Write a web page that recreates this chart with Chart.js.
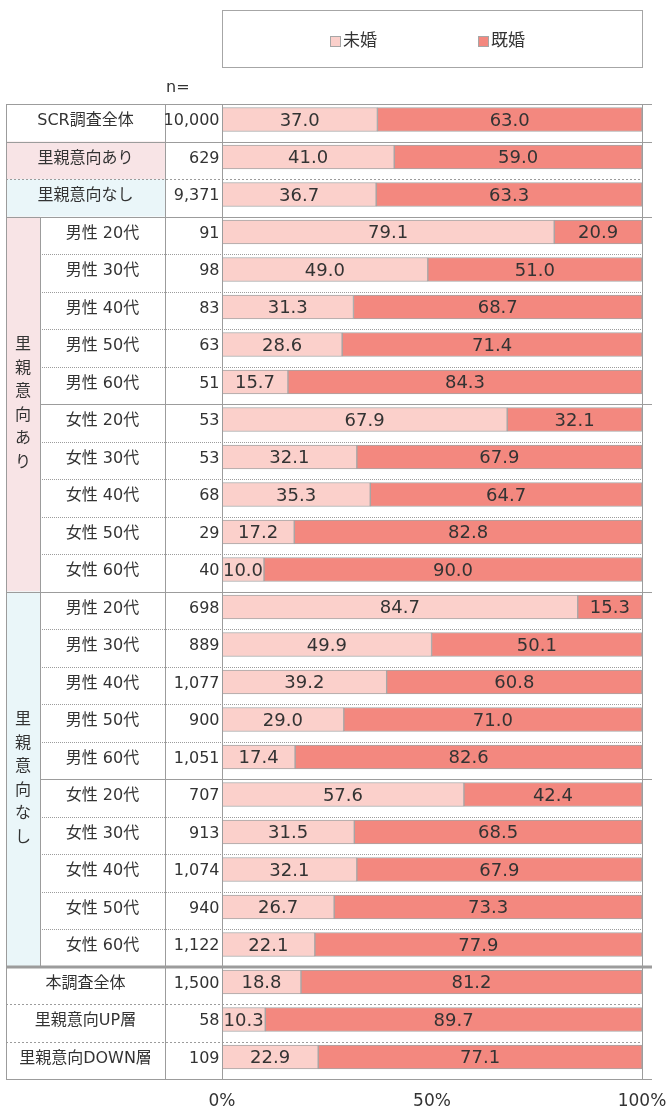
<!DOCTYPE html>
<html lang="ja">
<head>
<meta charset="utf-8">
<title>未婚・既婚</title>
<script src="https://cdn.jsdelivr.net/npm/chart.js@4.4.1/dist/chart.umd.min.js"></script>
<style>
  html, body { margin: 0; padding: 0; background: #fff; }
  #wrap { width: 670px; height: 1117px; }
</style>
</head>
<body>
<div id="wrap"><canvas id="chart" width="670" height="1117"></canvas></div>
<script>
// rows, top to bottom
const rowLabels = [
  'SCR調査全体', '里親意向あり', '里親意向なし',
  '男性 20代', '男性 30代', '男性 40代', '男性 50代', '男性 60代',
  '女性 20代', '女性 30代', '女性 40代', '女性 50代', '女性 60代',
  '男性 20代', '男性 30代', '男性 40代', '男性 50代', '男性 60代',
  '女性 20代', '女性 30代', '女性 40代', '女性 50代', '女性 60代',
  '本調査全体', '里親意向UP層', '里親意向DOWN層'
];
const nValues = [
  '10,000', '629', '9,371',
  '91', '98', '83', '63', '51', '53', '53', '68', '29', '40',
  '698', '889', '1,077', '900', '1,051', '707', '913', '1,074', '940', '1,122',
  '1,500', '58', '109'
];
const unmarried = [
  37.0, 41.0, 36.7,
  79.1, 49.0, 31.3, 28.6, 15.7, 67.9, 32.1, 35.3, 17.2, 10.0,
  84.7, 49.9, 39.2, 29.0, 17.4, 57.6, 31.5, 32.1, 26.7, 22.1,
  18.8, 10.3, 22.9
];
const married = [
  63.0, 59.0, 63.3,
  20.9, 51.0, 68.7, 71.4, 84.3, 32.1, 67.9, 64.7, 82.8, 90.0,
  15.3, 50.1, 60.8, 71.0, 82.6, 42.4, 68.5, 67.9, 73.3, 77.9,
  81.2, 89.7, 77.1
];
const seriesNames = ['未婚', '既婚'];
const tickValues = [0, 50, 100];
const groupNames = ['里親意向あり', '里親意向なし'];
const groupFirst = [3, 13];
const groupLast = [12, 22];

// styles
const FONT = '"DejaVu Sans", "Noto Sans CJK JP", sans-serif';
const TEXT = '#333333';
const LINE = '#9c9c9c';
const COL_UNMARRIED = '#fbd0cb';
const COL_MARRIED = '#f3887f';
const BG_GROUP = ['#f8e4e6', '#eaf6f9'];
const X_LEFT = 6, X_GROUP = 40, X_LABEL = 165;
const ROW_SHIFT = 3.25;

function rowEdge(chart, k) {
  const y = chart.scales.y;
  const h = y.getPixelForValue(1) - y.getPixelForValue(0);
  return y.getPixelForValue(0) - h / 2 + k * h + ROW_SHIFT;
}
function rowGroup(i) {
  for (let g = 0; g < groupFirst.length; g++) {
    if (i >= groupFirst[g] && i <= groupLast[g]) return g;
  }
  return -1;
}
function hline(ctx, x1, x2, y, dash, width) {
  ctx.save();
  ctx.strokeStyle = LINE;
  ctx.lineWidth = width || 1;
  ctx.setLineDash(dash || []);
  const yy = Math.round(y) + (width === 3 ? 0 : 0.5);
  ctx.beginPath();
  ctx.moveTo(x1, yy);
  ctx.lineTo(x2, yy);
  ctx.stroke();
  ctx.restore();
}
function vline(ctx, x, y1, y2) {
  ctx.save();
  ctx.strokeStyle = LINE;
  ctx.lineWidth = 1;
  ctx.beginPath();
  ctx.moveTo(x + 0.5, Math.round(y1));
  ctx.lineTo(x + 0.5, Math.round(y2) + 1);
  ctx.stroke();
  ctx.restore();
}

const tablePlugin = {
  id: 'table',
  beforeDraw(chart) {
    const ctx = chart.ctx;
    // backgrounds
    ctx.save();
    for (let g = 0; g < groupNames.length; g++) {
      ctx.fillStyle = BG_GROUP[g];
      // summary row for the group
      const t = rowEdge(chart, g + 1), b = rowEdge(chart, g + 2);
      ctx.fillRect(X_LEFT, t, X_LABEL - X_LEFT, b - t);
      // group column
      const gt = rowEdge(chart, groupFirst[g]), gb = rowEdge(chart, groupLast[g] + 1);
      ctx.fillRect(X_LEFT, gt, X_GROUP - X_LEFT, gb - gt);
    }
    ctx.restore();
  },
  afterDatasetsDraw(chart) {
    const ctx = chart.ctx;
    const area = chart.chartArea;
    const barL = Math.round(area.left), barR = Math.round(area.right);
    const ext = barR + 10;
    const top = rowEdge(chart, 0), bottom = rowEdge(chart, rowLabels.length);
    const dotted = [1, 1], dotted2 = [2, 2];

    for (let k = 0; k <= rowLabels.length; k++) {
      const y = rowEdge(chart, k);
      const above = rowGroup(k - 1), below = rowGroup(k);
      if (k === groupLast[groupLast.length - 1] + 1) {
        hline(ctx, X_LEFT, ext, y, [], 3);
      } else if (k === 0 || k === rowLabels.length || k === 1 || above !== below) {
        hline(ctx, X_LEFT, ext, y);
      } else if (above === -1) {
        hline(ctx, X_LEFT, barR, y, dotted2);
      } else if (k - groupFirst[above] === 5) {
        hline(ctx, X_GROUP, ext, y);
      } else {
        hline(ctx, X_GROUP, barR, y, dotted);
      }
    }
    vline(ctx, X_LEFT, top, bottom);
    vline(ctx, X_GROUP, rowEdge(chart, groupFirst[0]), rowEdge(chart, groupLast[1] + 1));
    vline(ctx, X_LABEL, top, bottom);
    vline(ctx, barL, top, bottom);
    vline(ctx, barR, top, bottom);

    // texts
    ctx.save();
    ctx.fillStyle = TEXT;
    ctx.font = '16px ' + FONT;
    ctx.textBaseline = 'middle';
    ctx.textAlign = 'left';
    ctx.fillText('n=', X_LABEL + 1, 88);
    rowLabels.forEach((lab, i) => {
      const cy = chart.scales.y.getPixelForValue(i) + 1.5;
      const g = rowGroup(i);
      ctx.textAlign = 'center';
      ctx.fillText(lab, g === -1 ? (X_LEFT + X_LABEL) / 2 : (X_GROUP + X_LABEL) / 2, cy);
      ctx.textAlign = 'right';
      ctx.fillText(nValues[i], barL - 2.5, cy);
    });
    ctx.textAlign = 'center';
    for (let g = 0; g < groupNames.length; g++) {
      const mid = (rowEdge(chart, groupFirst[g]) + rowEdge(chart, groupLast[g] + 1)) / 2;
      const chars = Array.from(groupNames[g]);
      const step = 23.5;
      chars.forEach((c, j) => {
        ctx.fillText(c, (X_LEFT + X_GROUP) / 2, mid + (j - (chars.length - 1) / 2) * step);
      });
    }
    ctx.restore();
  }
};

const labelPlugin = {
  id: 'barLabels',
  afterDatasetsDraw(chart) {
    const ctx = chart.ctx;
    ctx.save();
    ctx.fillStyle = TEXT;
    ctx.font = '18px ' + FONT;
    ctx.textAlign = 'center';
    ctx.textBaseline = 'middle';
    chart.data.datasets.forEach((ds, d) => {
      chart.getDatasetMeta(d).data.forEach((el, i) => {
        ctx.fillText(ds.data[i].toFixed(1), (el.x + el.base) / 2, el.y + 1.5);
      });
    });
    ctx.restore();
  }
};

const legendPlugin = {
  id: 'boxLegend',
  afterDraw(chart) {
    const ctx = chart.ctx;
    const area = chart.chartArea;
    const l = Math.round(area.left), r = Math.round(area.right);
    ctx.save();
    ctx.strokeStyle = '#a6a6a6';
    ctx.lineWidth = 1;
    ctx.strokeRect(l + 0.5, 10.5, r - l, 57);
    const cx = (l + r) / 2;
    ctx.font = '17px ' + FONT;
    ctx.textBaseline = 'middle';
    ctx.textAlign = 'left';
    chart.data.datasets.forEach((ds, i) => {
      const x = Math.round(cx - 102 + i * 148);
      ctx.fillStyle = ds.backgroundColor;
      ctx.fillRect(x, 36, 11, 11);
      ctx.strokeStyle = '#a6a6a6';
      ctx.strokeRect(x + 0.5, 36.5, 10, 10);
      ctx.fillStyle = TEXT;
      ctx.fillText(ds.label, x + 13, 42);
    });
    ctx.restore();
  }
};

new Chart(document.getElementById('chart'), {
  type: 'bar',
  data: {
    labels: rowLabels,
    datasets: [
      { label: seriesNames[0], data: unmarried, backgroundColor: COL_UNMARRIED },
      { label: seriesNames[1], data: married, backgroundColor: COL_MARRIED }
    ]
  },
  options: {
    indexAxis: 'y',
    responsive: false,
    animation: false,
    devicePixelRatio: 1,
    layout: { padding: { left: 222, right: 28, top: 100.75, bottom: 1.25 } },
    datasets: {
      bar: { barThickness: 24, borderWidth: 1, borderColor: '#a6a6a6', borderSkipped: false }
    },
    plugins: { legend: { display: false }, tooltip: { enabled: false } },
    scales: {
      x: {
        stacked: true,
        min: 0,
        max: 100,
        grid: { display: false, drawTicks: false },
        border: { display: false },
        afterBuildTicks: (s) => { s.ticks = tickValues.map(v => ({ value: v })); },
        afterFit: (s) => {
          s.height = 40;
          s.paddingLeft = 0;
          s.paddingRight = 0;
        },
        ticks: {
          padding: 16,
          color: TEXT,
          autoSkip: false,
          maxRotation: 0,
          font: { family: FONT, size: 17 },
          callback: (v) => v + '%'
        }
      },
      y: { stacked: true, display: false }
    }
  },
  plugins: [tablePlugin, labelPlugin, legendPlugin]
});
</script>
</body>
</html>
